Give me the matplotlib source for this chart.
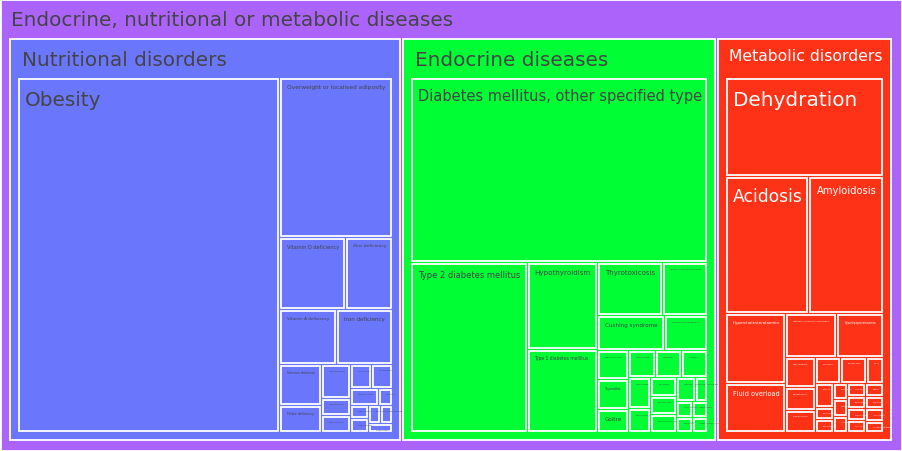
import matplotlib
matplotlib.use("Agg")
import matplotlib.pyplot as plt
from matplotlib.patches import Rectangle
from matplotlib.textpath import TextPath
from matplotlib.font_manager import FontProperties

# ---------------- data ----------------
root_label = "Endocrine, nutritional or metabolic diseases"
group_labels = ["Nutritional disorders", "Endocrine diseases", "Metabolic disorders"]

nutritional_labels = [
    "Obesity", "Overweight or localised adiposity", "Vitamin D deficiency", "Zinc deficiency",
    "Vitamin A deficiency", "Iron deficiency", "Selenium deficiency", "Folate deficiency",
    "Vitamin B12 deficiency", "Thiamine deficiency", "Vitamin C deficiency", "Iodine deficiency",
    "Calcium deficiency", "Magnesium deficiency", "Undernutrition", "Copper deficiency",
    "Vitamin E deficiency", "Niacin deficiency", "Vitamin K deficiency", "Protein deficiency",
]
nutritional_values = [
    3100, 605, 160, 115, 105, 103, 56.8, 38.6, 33.3, 17.3, 16.7, 16.4, 16.1, 15.7,
    7.9, 7.8, 7.8, 7.8, 7.3, 7.2,
]

endocrine_labels = [
    "Diabetes mellitus, other specified type", "Type 2 diabetes mellitus", "Hypothyroidism",
    "Type 1 diabetes mellitus", "Thyrotoxicosis", "Primary hyperparathyroidism",
    "Cushing syndrome", "Adrenocortical insufficiency", "Hypopituitarism", "Thyroiditis",
    "Goitre", "Hyperaldosteronism", "Hypogonadism", "Acromegaly", "Diabetes insipidus",
    "Hyperprolactinaemia", "Thyroid nodule", "Hypoparathyroidism", "Polycystic ovary syndrome",
    "Gestational diabetes mellitus", "Phaeochromocytoma", "Precocious puberty",
    "Delayed puberty", "Gynaecomastia", "Congenital hypothyroidism",
]
endocrine_values = [
    1852, 671, 206.5, 198.2, 117.9, 81.7, 79.5, 50.5, 31.2, 31.2, 24.8, 24.4, 24.2, 23.7,
    22.6, 17.1, 16.3, 16.3, 15.9, 15.6, 9.2, 8.4, 8.1, 8.1, 7.8,
]

metabolic_labels = [
    "Dehydration", "Acidosis", "Amyloidosis", "Hypercholesterolaemia", "Fluid overload",
    "Metabolic disorders, unspecified", "Hyperlipoproteinaemia", "Hypokalaemia",
    "Hyponatraemia", "Hyperkalaemia", "Hypocalcaemia", "Hypomagnesaemia", "Alkalosis",
    "Hyperuricaemia", "Hypophosphataemia", "Hypercalcaemia", "Hypernatraemia",
    "Haemochromatosis", "Lactose intolerance", "Wilson disease", "Porphyria",
    "Hyperammonaemia", "Lipodystrophy", "Gaucher disease", "Fabry disease",
    "Phenylketonuria", "Glycogen storage disease",
]
metabolic_values = [
    555, 407.5, 363.6, 147, 105.4, 79.5, 71.8, 31.4, 24.0, 23.6, 23.6, 23.5, 16.1, 15.7,
    8.2, 8.2, 8.2, 8.2, 8.2, 8.2, 8.2, 7.9, 7.8, 7.6, 7.6, 7.6, 7.1,
]

# ---------------- style ----------------
ROOT_COLOR = "#AB63FA"
GROUP_COLORS = ["#6A76FC", "#00FE35", "#FD3216"]
TEXT_COLORS = ["#444444", "#444444", "#FFFFFF"]
ROOT_BOX = (0.5, 0.5, 901.5, 451.5)
ROOT_PAD = (8.0, 38.0, 9.0, 9.0)      # l, t, r, b
GROUP_PAD = (7.5, 38.5, 7.5, 7.5)
GAP = 1.5
MAX_FONT_PX = 20.0
PX2PT = 0.72
LINE_W = 1.3
FONT = FontProperties(family="DejaVu Sans")


def squarify(values, x0, y0, x1, y1, ratio=1.0):
    rects = []
    n = len(values)
    total = float(sum(values))
    i0 = 0
    while i0 < n:
        dx, dy = x1 - x0, y1 - y0
        i1 = i0
        s = values[i1]
        i1 += 1
        mn = mx = s
        alpha = max(dy / dx, dx / dy) / (total * ratio)
        beta = s * s * alpha
        min_ratio = max(mx / beta, beta / mn)
        while i1 < n:
            v = values[i1]
            s2 = s + v
            mn2, mx2 = min(mn, v), max(mx, v)
            beta = s2 * s2 * alpha
            nr = max(mx2 / beta, beta / mn2)
            if nr > min_ratio:
                break
            s, mn, mx, min_ratio = s2, mn2, mx2, nr
            i1 += 1
        row = values[i0:i1]
        if dx < dy:
            yb = y0 + dy * s / total if i1 < n else y1
            xx = x0
            for v in row:
                w = dx * v / s
                rects.append((xx, y0, xx + w, yb))
                xx += w
            y0 = yb
        else:
            xb = x0 + dx * s / total if i1 < n else x1
            yy = y0
            for v in row:
                h = dy * v / s
                rects.append((x0, yy, xb, yy + h))
                yy += h
            x0 = xb
        total -= s
        i0 = i1
    return rects


def text_em_width(s):
    tp = TextPath((0, 0), s, size=100, prop=FONT)
    return tp.get_extents().width / 100.0


fig = plt.figure(figsize=(9.02, 4.52), dpi=100)
ax = fig.add_axes([0, 0, 1, 1])
ax.set_xlim(0, 902)
ax.set_ylim(452, 0)
ax.axis("off")


def draw_box(rect, color, label, tcolor, offset):
    x0, y0, x1, y1 = rect
    ax.add_patch(Rectangle((x0, y0), x1 - x0, y1 - y0, facecolor=color,
                           edgecolor="white", linewidth=LINE_W))
    avail = (x1 - x0) - 2 * offset
    fs = min(MAX_FONT_PX, max(avail, 1) / text_em_width(label))
    fs = min(fs, max((y1 - y0) * 0.8, 1))
    ax.text(x0 + offset, y0 + 3 + 0.38 * fs, label, fontsize=fs * PX2PT,
            color=tcolor, va="top", ha="left", family="DejaVu Sans")


# root
draw_box(ROOT_BOX, ROOT_COLOR, root_label, "#444444", 10.5)

groups = [
    (nutritional_labels, nutritional_values),
    (endocrine_labels, endocrine_values),
    (metabolic_labels, metabolic_values),
]
group_totals = [sum(v) for _, v in groups]
order = sorted(range(len(groups)), key=lambda i: -group_totals[i])

rx0, ry0, rx1, ry1 = ROOT_BOX
g_rects = squarify([group_totals[i] for i in order],
                   rx0 + ROOT_PAD[0], ry0 + ROOT_PAD[1], rx1 - ROOT_PAD[2], ry1 - ROOT_PAD[3])

for gi, gr in zip(order, g_rects):
    gx0, gy0, gx1, gy1 = gr[0] + GAP, gr[1] + GAP, gr[2] - GAP, gr[3] - GAP
    draw_box((gx0, gy0, gx1, gy1), GROUP_COLORS[gi], group_labels[gi], TEXT_COLORS[gi], 11.5)
    labels, values = groups[gi]
    idx = sorted(range(len(values)), key=lambda i: -values[i])
    leaf_rects = squarify([values[i] for i in idx],
                          gx0 + GROUP_PAD[0], gy0 + GROUP_PAD[1],
                          gx1 - GROUP_PAD[2], gy1 - GROUP_PAD[3])
    for li, lr in zip(idx, leaf_rects):
        lrect = (lr[0] + GAP, lr[1] + GAP, lr[2] - GAP, lr[3] - GAP)
        draw_box(lrect, GROUP_COLORS[gi], labels[li], TEXT_COLORS[gi], 6.0)

fig.savefig("out.png", dpi=100)
